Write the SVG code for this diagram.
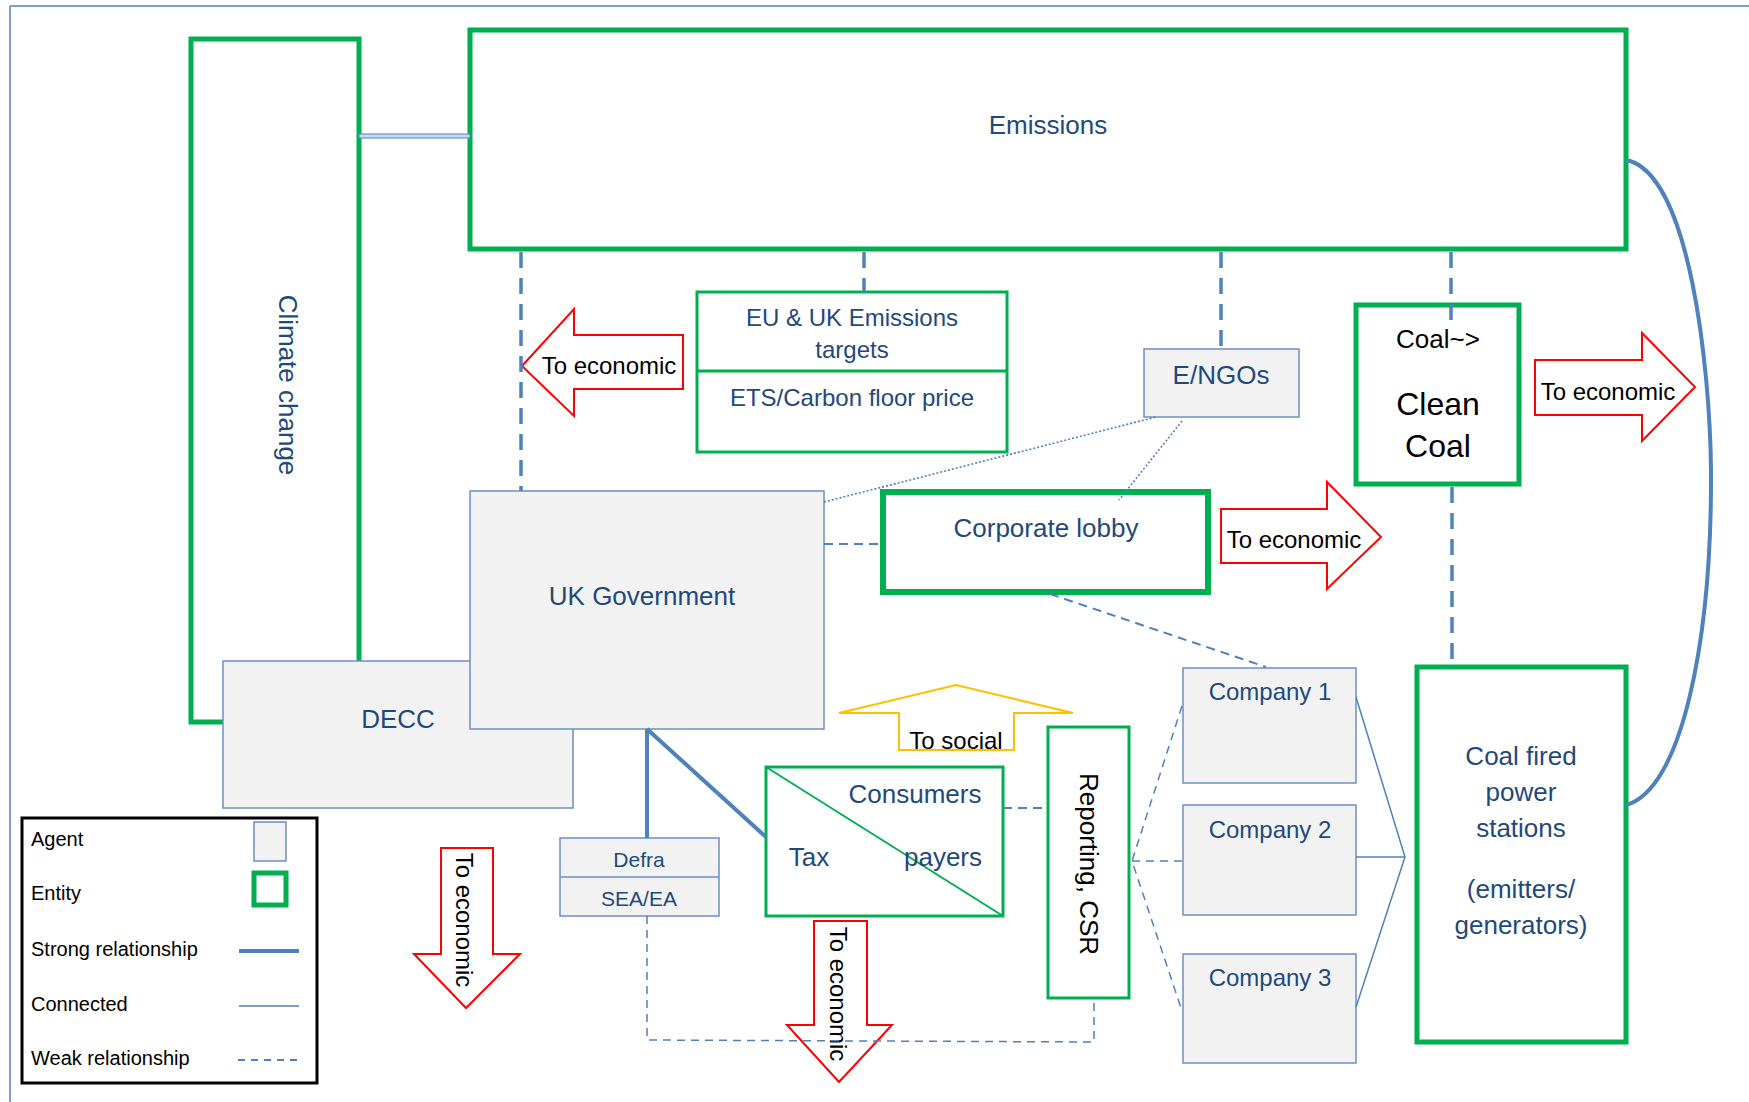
<svg xmlns="http://www.w3.org/2000/svg" width="1749" height="1102" viewBox="0 0 1749 1102">
<style>
.ent{fill:#fff;stroke:#00B050;stroke-width:5}
.ent3{fill:#fff;stroke:#00B050;stroke-width:3}
.agent{fill:#F2F2F2;stroke:#6F8FC4;stroke-width:1.5}
.lbl{font-family:"Liberation Sans",Arial,sans-serif;font-size:26px;fill:#1F497D;text-anchor:middle}
.blk{font-family:"Liberation Sans",Arial,sans-serif;font-size:24px;fill:#000;text-anchor:middle}
.leg{font-family:"Liberation Sans",Arial,sans-serif;font-size:20px;fill:#000}
.red{fill:#fff;stroke:#FF0000;stroke-width:2}
.weakB{fill:none;stroke:#4F81BD;stroke-width:3.5;stroke-dasharray:16 10}
.weak{fill:none;stroke:#4F81BD;stroke-width:2;stroke-dasharray:9 6}
.weakT{fill:none;stroke:#4F81BD;stroke-width:1.5;stroke-dasharray:8 6}
.dot{fill:none;stroke:#4F81BD;stroke-width:1.6;stroke-dasharray:2 2}
.strong{fill:none;stroke:#4F81BD;stroke-width:4}
.conn{fill:none;stroke:#4F81BD;stroke-width:1.5}
</style>
<g id="frame">
<line x1="10" y1="6" x2="1749" y2="6" stroke="#4F81BD" stroke-width="1.5"/>
<line x1="10" y1="6" x2="10" y2="1102" stroke="#4F81BD" stroke-width="1.5"/>
</g>
<g id="climate-change">
<rect class="ent" x="191" y="39" width="168" height="683"/>
<text class="lbl" transform="translate(288,385) rotate(90)" dy="9">Climate change</text>
</g>
<g id="emissions">
<rect class="ent" x="470" y="30" width="1156" height="219"/>
<text class="lbl" x="1048" y="134">Emissions</text>
</g>
<g id="eu-targets">
<rect class="ent3" x="697" y="292" width="310" height="160"/>
<line x1="697" y1="371" x2="1007" y2="371" stroke="#00B050" stroke-width="3"/>
<text class="lbl" x="852" y="326" style="font-size:24px">EU &amp; UK Emissions</text>
<text class="lbl" x="852" y="358" style="font-size:24px">targets</text>
<text class="lbl" x="852" y="406" style="font-size:24px">ETS/Carbon floor price</text>
</g>
<g id="arrow-econ-1">
<polygon class="red" points="522,366 574,309 574,335 683,335 683,389 574,389 574,416"/>
<text class="blk" x="609" y="374">To economic</text>
</g>
<g id="engos">
<rect class="agent" x="1144" y="349" width="155" height="68"/>
<text class="lbl" x="1221" y="384">E/NGOs</text>
</g>
<g id="clean-coal">
<rect class="ent" x="1356" y="305" width="163" height="179"/>
<text class="blk" x="1438" y="348" style="font-size:26px">Coal~&gt;</text>
<text class="blk" x="1438" y="415" style="font-size:32px">Clean</text>
<text class="blk" x="1438" y="457" style="font-size:32px">Coal</text>
</g>
<g id="arrow-econ-2">
<polygon class="red" points="1535,360 1642,360 1642,333 1695,387 1642,441 1642,415 1535,415"/>
<text class="blk" x="1608" y="400">To economic</text>
</g>
<g id="decc">
<rect class="agent" x="223" y="661" width="350" height="147"/>
<text class="lbl" x="398" y="728">DECC</text>
</g>
<g id="uk-government">
<rect class="agent" x="470" y="491" width="354" height="238"/>
<text class="lbl" x="642" y="605">UK Government</text>
</g>
<g id="corporate-lobby">
<rect class="ent" x="883" y="492" width="325" height="100" style="stroke-width:6"/>
<text class="lbl" x="1046" y="537">Corporate lobby</text>
</g>
<g id="arrow-econ-3">
<polygon class="red" points="1221,509 1327,509 1327,482 1381,537 1327,589 1327,563 1221,563"/>
<text class="blk" x="1294" y="548">To economic</text>
</g>
<g id="company-1">
<rect class="agent" x="1183" y="668" width="173" height="115"/>
<text class="lbl" x="1270" y="700" style="font-size:24px">Company 1</text>
</g>
<g id="company-2">
<rect class="agent" x="1183" y="805" width="173" height="110"/>
<text class="lbl" x="1270" y="838" style="font-size:24px">Company 2</text>
</g>
<g id="company-3">
<rect class="agent" x="1183" y="954" width="173" height="109"/>
<text class="lbl" x="1270" y="986" style="font-size:24px">Company 3</text>
</g>
<g id="coal-fired">
<rect class="ent" x="1417" y="667" width="209" height="375"/>
<text class="lbl" x="1521" y="765">Coal fired</text>
<text class="lbl" x="1521" y="801">power</text>
<text class="lbl" x="1521" y="837">stations</text>
<text class="lbl" x="1521" y="898">(emitters/</text>
<text class="lbl" x="1521" y="934">generators)</text>
</g>
<g id="arrow-social">
<polygon points="956,685 1073,713 1014,713 1014,750 899,750 899,713 839,713" fill="#fff" stroke="#FFC000" stroke-width="2"/>
<text class="blk" x="956" y="749">To social</text>
</g>
<g id="consumers">
<rect class="ent3" x="766" y="767" width="237" height="149"/>
<line x1="766" y1="767" x2="1003" y2="916" stroke="#00B050" stroke-width="2"/>
<text class="lbl" x="915" y="803">Consumers</text>
<text class="lbl" x="809" y="866">Tax</text>
<text class="lbl" x="943" y="866">payers</text>
</g>
<g id="reporting">
<rect class="ent3" x="1048" y="727" width="81" height="271"/>
<text class="blk" transform="translate(1089,864) rotate(90)" dy="9" style="font-size:26px">Reporting, CSR</text>
</g>
<g id="defra">
<rect class="agent" x="560" y="838" width="159" height="78"/>
<line x1="560" y1="877" x2="719" y2="877" stroke="#6F8FC4" stroke-width="1.5"/>
<text class="lbl" x="639" y="867" style="font-size:21px">Defra</text>
<text class="lbl" x="639" y="906" style="font-size:21px">SEA/EA</text>
</g>
<g id="arrow-econ-4">
<polygon class="red" points="441,848 493,848 493,954 520,954 466,1008 414,954 441,954"/>
<text class="blk" transform="translate(464,920) rotate(90)" dy="8">To economic</text>
</g>
<g id="arrow-econ-5">
<polygon class="red" points="814,921 867,921 867,1025 892,1025 839,1082 787,1025 814,1025"/>
<text class="blk" transform="translate(838,994) rotate(90)" dy="8">To economic</text>
</g>
<g id="legend">
<rect x="22" y="818" width="295" height="265" fill="#fff" stroke="#000" stroke-width="3"/>
<text class="leg" x="31" y="846">Agent</text>
<rect class="agent" x="254" y="822" width="32" height="39"/>
<text class="leg" x="31" y="900">Entity</text>
<rect class="ent" x="254" y="873" width="32" height="32"/>
<text class="leg" x="31" y="956">Strong relationship</text>
<line class="strong" x1="239" y1="951" x2="299" y2="951"/>
<text class="leg" x="31" y="1011">Connected</text>
<line class="conn" x1="239" y1="1006" x2="299" y2="1006"/>
<text class="leg" x="31" y="1065">Weak relationship</text>
<line class="weak" x1="238" y1="1060" x2="299" y2="1060" style="stroke-dasharray:7 6"/>
</g>
<g id="connectors">
<rect x="359" y="134" width="111" height="4" fill="#C6D9F1" stroke="#4F81BD" stroke-width="1"/>
<line class="weakB" x1="521" y1="252" x2="521" y2="491"/>
<line class="weakB" x1="864" y1="252" x2="864" y2="292"/>
<line class="weakB" x1="1221" y1="252" x2="1221" y2="349"/>
<line class="weakB" x1="1451" y1="252" x2="1451" y2="320"/>
<line class="weakB" x1="1452" y1="487" x2="1452" y2="667"/>
<line class="dot" x1="824" y1="502" x2="1156" y2="417"/>
<line class="dot" x1="1182" y1="421" x2="1119" y2="500"/>
<line class="weak" x1="824" y1="544" x2="883" y2="544"/>
<line class="weak" x1="1050" y1="594" x2="1266" y2="667"/>
<line class="strong" x1="647" y1="729" x2="647" y2="838"/>
<line class="strong" x1="647" y1="729" x2="766" y2="837"/>
<line class="weak" x1="1003" y1="808" x2="1048" y2="808"/>
<polyline class="weakT" points="647,916 647,1040 1094,1042 1094,998"/>
<polyline class="weakT" points="1182,706 1132,861 1182,1011"/>
<line class="weakT" x1="1132" y1="861" x2="1182" y2="861"/>
<polyline class="conn" points="1356,697 1405,857 1356,1007"/>
<line class="conn" x1="1356" y1="857" x2="1405" y2="857"/>
<path class="strong" d="M1626,160 C1690,172 1710,370 1711,470 C1712,640 1682,790 1626,805"/>
</g>
</svg>
